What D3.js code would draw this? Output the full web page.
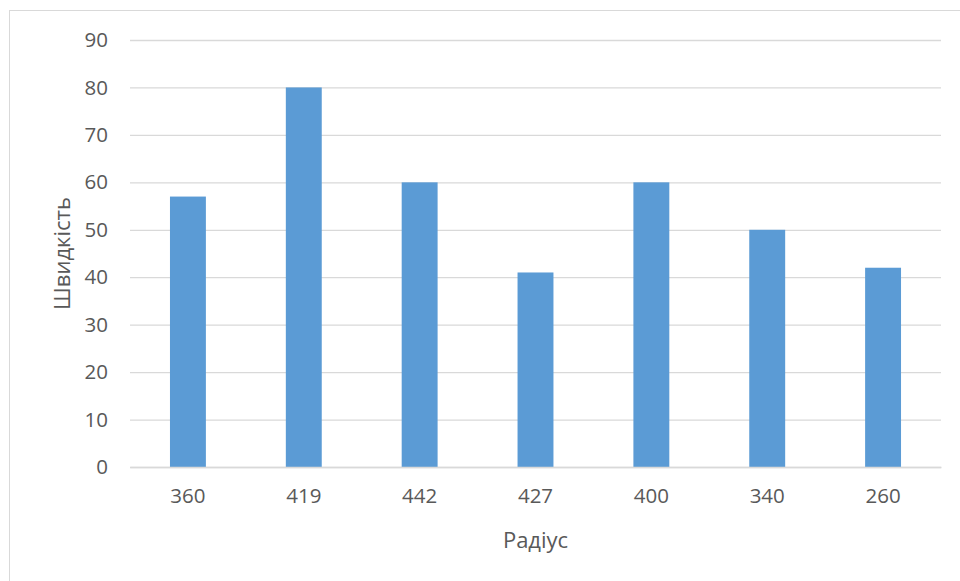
<!DOCTYPE html>
<html><head><meta charset="utf-8">
<script src="https://cdn.jsdelivr.net/npm/d3@7"></script>
<style>body{margin:0;background:#fff}svg{display:block}</style>
</head><body><svg id="c" width="960" height="581"></svg>
<script>
const categories = ["360","419","442","427","400","340","260"];
const values = [57,80,60,41,60,50,42];
const yTicks = [0,10,20,30,40,50,60,70,80,90];
const xTitle = "Радіус";
const yTitle = "Швидкість";

(function(){
const svg = d3.select("#c");
const mL=130,mR=941,mT=40,mB=467;
const font = "'Open Sans', 'Noto Sans', sans-serif";
const txt = "#595959";

svg.append("rect").attr("x",9.5).attr("y",10.5).attr("width",980).attr("height",600)
  .attr("fill","none").attr("stroke","#d9d9d9").attr("stroke-width",1);

const x = d3.scaleBand().domain(categories).range([mL,mR]).paddingInner(0.69).paddingOuter(0.345);
const y = d3.scaleLinear().domain([0,90]).range([mB,mT]);

const yAxis = svg.append("g").attr("transform",`translate(${mL},0)`)
  .call(d3.axisLeft(y).tickValues(yTicks).tickSize(-(mR-mL)).tickPadding(22));
yAxis.select(".domain").remove();
yAxis.selectAll("line").attr("stroke","#d9d9d9").attr("stroke-width",1.3);
yAxis.selectAll("text").attr("fill",txt).style("font-family",font).style("font-size","20.5px");

svg.append("g").selectAll("rect").data(values).join("rect")
  .attr("x",(d,i)=>x(categories[i])).attr("width",x.bandwidth())
  .attr("y",d=>y(d)).attr("height",d=>mB-y(d)).attr("fill","#5b9bd5");

const xAxis = svg.append("g").attr("transform",`translate(0,${mB})`)
  .call(d3.axisBottom(x).tickSize(0).tickPadding(21));
xAxis.select(".domain").attr("stroke","#d9d9d9").attr("stroke-width",1.5);
xAxis.selectAll("text").attr("fill",txt).style("font-family",font).style("font-size","20.5px");

svg.append("text").attr("x",(mL+mR)/2).attr("y",548).attr("text-anchor","middle")
  .attr("fill",txt).style("font-family",font).style("font-size","22px").text(xTitle);
svg.append("text").attr("transform",`translate(70,${(mT+mB)/2}) rotate(-90)`).attr("text-anchor","middle")
  .attr("fill",txt).style("font-family",font).style("font-size","22px").text(yTitle);
})();
</script></body></html>
